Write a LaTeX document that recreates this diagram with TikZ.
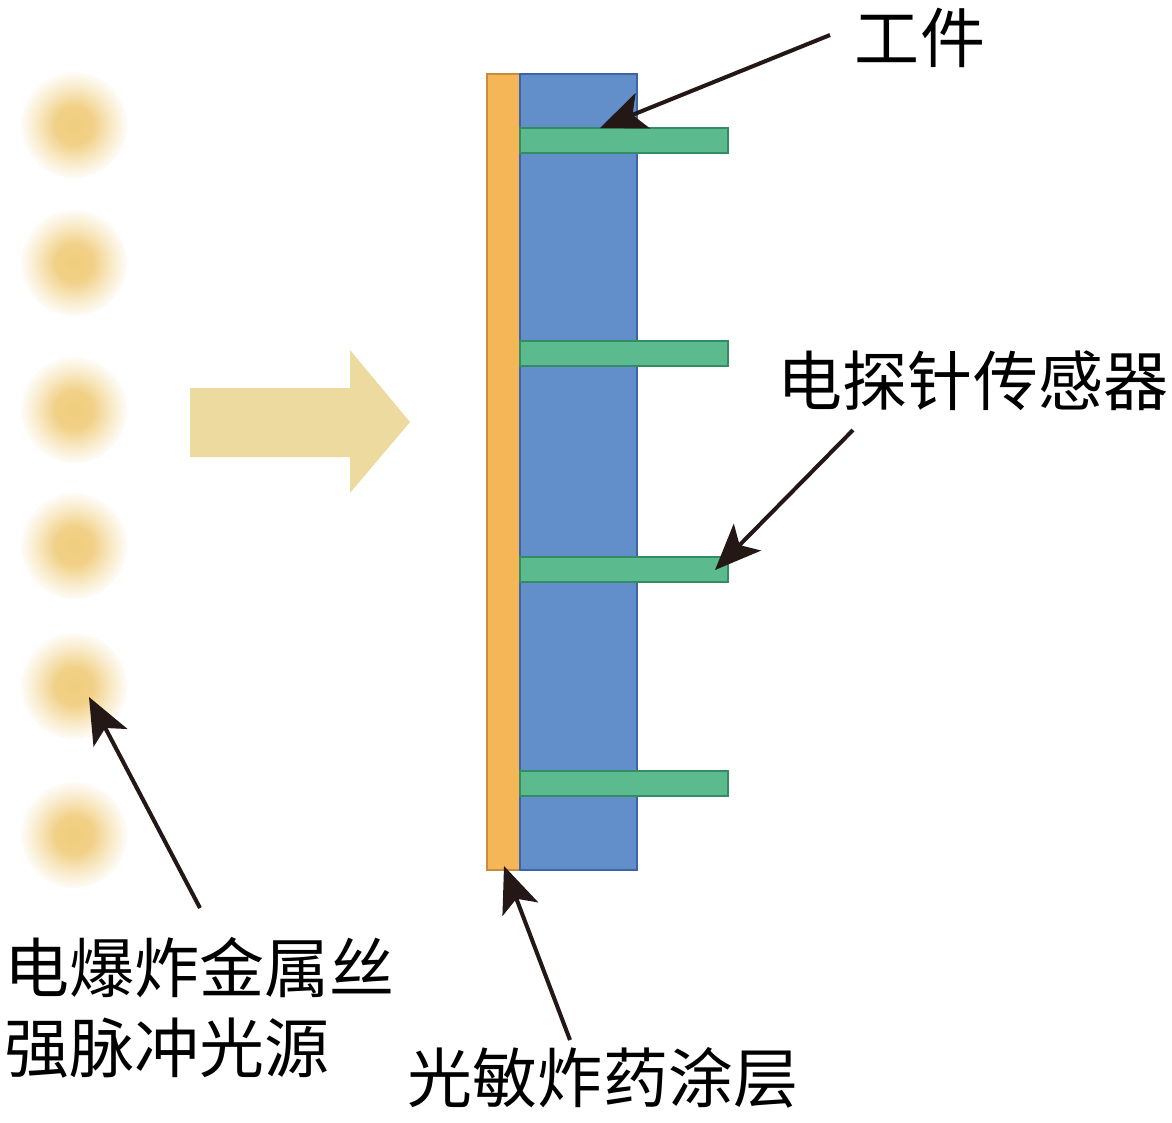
\documentclass[tikz,border=0pt]{standalone}
\usepackage{fontspec}
\usepackage{xcolor}
\usetikzlibrary{arrows.meta}
\newfontfamily\cjk{Noto Sans CJK SC}
\definecolor{coatorange}{RGB}{245,182,88}
\definecolor{coatline}{RGB}{200,140,60}
\definecolor{workblue}{RGB}{98,142,202}
\definecolor{workline}{RGB}{60,100,170}
\definecolor{probegreen}{RGB}{92,187,142}
\definecolor{probeline}{RGB}{50,140,100}
\definecolor{beamfill}{RGB}{236,218,158}
\definecolor{glowcore}{RGB}{240,205,125}
\definecolor{arrowink}{RGB}{35,24,21}
\pgfdeclareradialshading{lampglow}{\pgfpoint{0bp}{0bp}}{color(0bp)=(glowcore); color(9bp)=(glowcore!92); color(19bp)=(glowcore!35); color(25bp)=(glowcore!6); color(50bp)=(white)}
\tikzset{
 lbl/.style={font=\cjk\fontsize{18.5}{22.8}\selectfont, inner sep=0pt},
 pointer/.style={-{Stealth[length=0.46cm,width=0.38cm,inset=0.11cm]}, line width=1.15pt, draw=arrowink},
 probebar/.style={draw=probeline, fill=probegreen, line width=0.6pt, minimum width=2.08cm, minimum height=0.25cm, inner sep=0pt},
 glow/.style={shading=lampglow}
}

\begin{document}
\begin{tikzpicture}
 \useasboundingbox (0,0) rectangle (11.72,-11.22);
 \foreach \gy in {1.25,2.63,4.10,5.46,6.86,8.35}
  \shade[glow] (0.74,-\gy) circle (0.53);
 \fill[beamfill] (1.9,-3.88) -- (3.5,-3.88) -- (3.5,-3.5) -- (4.1,-4.22) -- (3.5,-4.93) -- (3.5,-4.57) -- (1.9,-4.57) -- cycle;
 \node[draw=coatline, fill=coatorange, line width=0.6pt, minimum width=0.33cm, minimum height=7.96cm, inner sep=0pt] (coating) at (5.035,-4.72) {};
 \node[draw=workline, fill=workblue, line width=0.6pt, minimum width=1.17cm, minimum height=7.96cm, inner sep=0pt] (workpiece) at (5.785,-4.72) {};
 \node[probebar] (probe1) at (6.24,-1.405) {};
 \node[probebar] (probe2) at (6.24,-3.535) {};
 \node[probebar] (probe3) at (6.24,-5.695) {};
 \node[probebar] (probe4) at (6.24,-7.835) {};
 \node[lbl] (lblwork) at (9.2,-0.38) {工件};
 \node[lbl] (lblprobe) at (9.73,-3.81) {电探针传感器};
 \node[lbl, align=left, anchor=west] (lblsource) at (0.04,-10.08) {电爆炸金属丝\\强脉冲光源};
 \node[lbl] (lblcoat) at (6.03,-10.78) {光敏炸药涂层};
 \coordinate (worktail) at (8.3,-0.35);
 \coordinate (workhead) at (6.0,-1.28);
 \coordinate (probetail) at (8.53,-4.3);
 \coordinate (probehead) at (7.15,-5.7);
 \coordinate (sourcetail) at (2.0,-9.08);
 \coordinate (sourcehead) at (0.89,-6.97);
 \coordinate (coattail) at (5.7,-10.4);
 \coordinate (coathead) at (5.04,-8.66);
 \draw[pointer] (worktail) -- (workhead);
 \draw[pointer] (probetail) -- (probehead);
 \draw[pointer] (sourcetail) -- (sourcehead);
 \draw[pointer] (coattail) -- (coathead);
\end{tikzpicture}
\end{document}
